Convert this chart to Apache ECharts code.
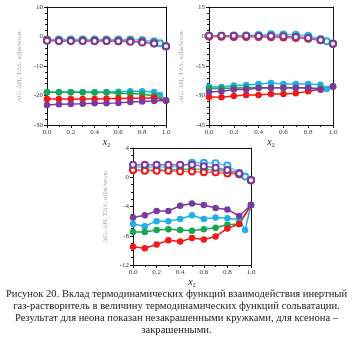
<!DOCTYPE html>
<html>
<head>
<meta charset="utf-8">
<script src="https://cdn.jsdelivr.net/npm/echarts@6/dist/echarts.min.js"></script>
<style>
  html, body { margin: 0; padding: 0; background: #fff; }
  #chart { width: 353px; height: 344px; }
</style>
</head>
<body>
<div id="chart"></div>
<script>
// Mole fraction of the second solvent component
const xBase = [0.0, 0.1, 0.2, 0.3, 0.4, 0.5, 0.6, 0.7, 0.8, 0.9, 1.0];
const xCyan = [0.0, 0.1, 0.2, 0.3, 0.4, 0.5, 0.6, 0.7, 0.8, 0.9, 0.95, 1.0];

// Panel A: neon (open markers) and xenon (filled markers)
const neA_cyan   = [-1.0, -1.0, -1.0, -1.0, -1.0, -1.0, -1.0, -1.0, -1.2, -1.6, -2.3, -3.3];
const neA_green  = [-1.2, -1.3, -1.3, -1.3, -1.3, -1.3, -1.4, -1.5, -1.8, -2.3, -3.3];
const neA_red    = [-1.3, -1.4, -1.4, -1.4, -1.4, -1.4, -1.5, -1.6, -1.9, -2.3, -3.3];
const neA_purple = [-1.4, -1.5, -1.5, -1.5, -1.5, -1.5, -1.6, -1.8, -2.0, -2.4, -3.3];
const xeA_cyan   = [-18.9, -18.9, -18.9, -18.9, -18.9, -18.8, -18.7, -18.6, -18.6, -18.8, -19.8, -21.7];
const xeA_green  = [-18.9, -18.9, -18.9, -18.9, -19.0, -19.0, -19.2, -19.3, -19.6, -20.1, -21.7];
const xeA_red    = [-21.2, -21.2, -21.2, -21.2, -21.2, -21.1, -21.0, -20.9, -20.9, -20.8, -21.7];
const xeA_purple = [-23.2, -23.0, -22.9, -22.8, -22.6, -22.6, -22.5, -22.2, -22.0, -21.9, -21.7];

// Panel B
const neB_cyan   = [0.4, 0.4, 0.5, 0.5, 0.7, 1.1, 1.0, 0.9, 0.4, -1.3, -2.4, -3.7];
const neB_green  = [0.2, 0.2, 0.2, 0.2, 0.2, 0.1, 0.0, -0.2, -0.7, -1.6, -3.7];
const neB_red    = [0.0, -0.1, -0.2, -0.2, -0.3, -0.4, -0.5, -0.7, -1.1, -1.9, -3.7];
const neB_purple = [0.4, 0.4, 0.4, 0.4, 0.3, 0.2, 0.1, -0.2, -0.8, -1.8, -3.7];
const xeB_cyan   = [-25.6, -25.7, -24.9, -24.6, -24.2, -23.7, -24.2, -24.2, -24.2, -24.5, -26.7, -25.4];
const xeB_green  = [-26.4, -26.4, -26.2, -26.0, -26.0, -26.0, -26.0, -26.0, -26.1, -26.4, -25.4];
const xeB_red    = [-30.8, -30.9, -30.2, -29.7, -29.7, -29.2, -29.2, -28.9, -27.9, -26.8, -25.4];
const xeB_purple = [-28.2, -27.9, -27.0, -26.9, -26.2, -26.1, -26.1, -26.1, -26.2, -27.1, -25.4];

// Panel C
const neC_cyan   = [1.4, 1.4, 1.4, 1.4, 1.5, 2.0, 2.0, 1.9, 1.6, 0.6, 0.1, -0.4];
const neC_green  = [1.0, 1.0, 1.0, 1.0, 1.1, 1.1, 1.1, 1.0, 0.8, 0.4, -0.4];
const neC_red    = [1.0, 0.9, 0.9, 0.9, 0.8, 0.8, 0.7, 0.7, 0.5, 0.4, -0.4];
const neC_purple = [1.7, 1.7, 1.7, 1.7, 1.7, 1.7, 1.5, 1.3, 1.0, 0.5, -0.4];
const xeC_cyan   = [-6.4, -6.7, -6.0, -6.0, -5.7, -5.2, -5.7, -5.5, -5.6, -5.8, -7.2, -3.8];
const xeC_green  = [-7.5, -7.5, -7.2, -7.1, -7.2, -7.3, -7.1, -6.9, -6.5, -6.4, -3.8];
const xeC_red    = [-9.5, -9.7, -9.2, -8.6, -8.8, -8.3, -8.5, -8.1, -7.0, -6.4, -3.8];
const xeC_purple = [-5.5, -5.2, -4.6, -4.6, -3.9, -3.6, -3.8, -4.2, -4.4, -5.3, -3.8];

// Axis ranges and tick steps per panel
const yRangeA = [-30, 10, 10];
const yRangeB = [-45, 15, 15];
const yRangeC = [-12, 4, 4];

const captionLines = [
  'Рисунок 20. Вклад термодинамических функций взаимодействия инертный',
  'газ-растворитель в величину термодинамических функций сольватации.',
  'Результат для неона показан незакрашенными кружками, для ксенона –',
  'закрашенными.'
];

const COLORS = { cyan: '#22aee6', green: '#16a84f', red: '#f01818', purple: '#7a3a9e' };
const NE_LINE = { cyan: '#5cc6f0', green: '#5cc285', red: '#f06060', purple: '#9a6ab8' };
const FONT = 'Liberation Serif, DejaVu Serif, serif';

const chart = echarts.init(document.getElementById('chart'), null, { renderer: 'canvas' });

const grids = [
  { left: 47, top: 7, width: 119, height: 118 },
  { left: 209, top: 7, width: 124, height: 118 },
  { left: 133, top: 148, width: 118, height: 117 }
];

function pairs(xs, ys) { return ys.map((v, i) => [xs[i], v]); }

function xAxisFor(i) {
  return {
    type: 'value', gridIndex: i, min: 0, max: 1, interval: 0.2,
    name: '{i|x}{s|2}', nameLocation: 'middle', nameGap: 11,
    nameTextStyle: { rich: {
      i: { fontFamily: FONT, fontStyle: 'italic', fontSize: 10, color: '#222' },
      s: { fontFamily: FONT, fontSize: 6, color: '#222', verticalAlign: 'bottom', padding: [6, 0, 0, 0] }
    } },
    axisLine: { onZero: false, lineStyle: { color: '#111', width: 1 } },
    axisTick: { show: true, inside: false, length: 3, lineStyle: { color: '#111' } },
    minorTick: { show: true, splitNumber: 2, length: 2, lineStyle: { color: '#111' } },
    splitLine: { show: false },
    axisLabel: { fontFamily: FONT, fontSize: 7, color: '#333', margin: 4,
      formatter: v => v.toFixed(1) }
  };
}
function xTopFor(i) {
  return { type: 'value', gridIndex: i, position: 'top', min: 0, max: 1,
    axisLine: { show: true, onZero: false, lineStyle: { color: '#111' } },
    axisTick: { show: false }, axisLabel: { show: false }, splitLine: { show: false } };
}
function yAxisFor(i, r, minorSplit) {
  return {
    type: 'value', gridIndex: i, min: r[0], max: r[1], interval: r[2],
    name: 'ΔG, ΔH, TΔS, кДж/моль', nameLocation: 'middle', nameRotate: 90, nameGap: 24,
    nameTextStyle: { fontFamily: FONT, fontSize: 7, color: '#a8a8a8' },
    axisLine: { show: true, onZero: false, lineStyle: { color: '#111' } },
    axisTick: { show: true, inside: false, length: 3, lineStyle: { color: '#111' } },
    minorTick: { show: true, splitNumber: minorSplit, length: 2, lineStyle: { color: '#111' } },
    splitLine: { show: false },
    axisLabel: { fontFamily: FONT, fontSize: 7, color: '#333', margin: 4 }
  };
}
function yRightFor(i, r) {
  return { type: 'value', gridIndex: i, position: 'right', min: r[0], max: r[1], interval: r[2],
    axisLine: { show: true, onZero: false, lineStyle: { color: '#111' } },
    axisTick: { show: false }, axisLabel: { show: false }, splitLine: { show: false } };
}

function neonSeries(axis, xs, ys, key) {
  return {
    type: 'line', xAxisIndex: axis, yAxisIndex: axis, data: pairs(xs, ys),
    symbol: 'emptyCircle', symbolSize: 6, showSymbol: true,
    lineStyle: { color: NE_LINE[key], width: 1.5 },
    itemStyle: { color: COLORS[key], borderWidth: 1.3 },
    animation: false, z: 3
  };
}
function xenonSeries(axis, xs, ys, key) {
  return {
    type: 'line', xAxisIndex: axis, yAxisIndex: axis, data: pairs(xs, ys),
    symbol: 'circle', symbolSize: 6.5, showSymbol: true,
    lineStyle: { color: COLORS[key], width: 1.5 },
    itemStyle: { color: COLORS[key], borderWidth: 0 },
    animation: false, z: 2
  };
}

// Axes: indices 0..2 are the main (bottom/left) axes, 3..5 frame the opposite sides
const xAxes = [xAxisFor(0), xAxisFor(1), xAxisFor(2), xTopFor(0), xTopFor(1), xTopFor(2)];
const yAxes = [yAxisFor(0, yRangeA, 5), yAxisFor(1, yRangeB, 5), yAxisFor(2, yRangeC, 4),
  yRightFor(0, yRangeA), yRightFor(1, yRangeB), yRightFor(2, yRangeC)];

const series = [
  xenonSeries(0, xCyan, xeA_cyan, 'cyan'), xenonSeries(0, xBase, xeA_green, 'green'),
  xenonSeries(0, xBase, xeA_red, 'red'), xenonSeries(0, xBase, xeA_purple, 'purple'),
  neonSeries(0, xCyan, neA_cyan, 'cyan'), neonSeries(0, xBase, neA_green, 'green'),
  neonSeries(0, xBase, neA_red, 'red'), neonSeries(0, xBase, neA_purple, 'purple'),

  xenonSeries(1, xCyan, xeB_cyan, 'cyan'), xenonSeries(1, xBase, xeB_green, 'green'),
  xenonSeries(1, xBase, xeB_red, 'red'), xenonSeries(1, xBase, xeB_purple, 'purple'),
  neonSeries(1, xCyan, neB_cyan, 'cyan'), neonSeries(1, xBase, neB_green, 'green'),
  neonSeries(1, xBase, neB_red, 'red'), neonSeries(1, xBase, neB_purple, 'purple'),

  xenonSeries(2, xCyan, xeC_cyan, 'cyan'), xenonSeries(2, xBase, xeC_green, 'green'),
  xenonSeries(2, xBase, xeC_red, 'red'), xenonSeries(2, xBase, xeC_purple, 'purple'),
  neonSeries(2, xCyan, neC_cyan, 'cyan'), neonSeries(2, xBase, neC_green, 'green'),
  neonSeries(2, xBase, neC_red, 'red'), neonSeries(2, xBase, neC_purple, 'purple')
];

const captionY = [295, 307, 319, 331];
const caption = captionLines.map((t, i) => ({
  type: 'text', left: 'center', top: captionY[i] - 6,
  style: { text: t, fontFamily: FONT, fontSize: 10.6, fill: '#222' }
}));

chart.setOption({
  backgroundColor: '#fff',
  animation: false,
  grid: grids,
  xAxis: xAxes,
  yAxis: yAxes,
  series: series,
  graphic: caption
});
</script>
</body>
</html>
